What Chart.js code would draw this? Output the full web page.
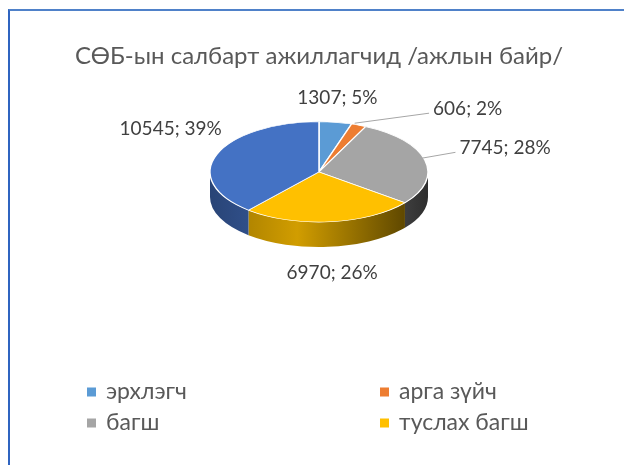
<!DOCTYPE html>
<html>
<head>
<meta charset="utf-8">
<script src="https://cdn.jsdelivr.net/npm/chart.js@4.4.1/dist/chart.umd.min.js"></script>
<style>
    html, body { margin: 0; padding: 0; background: #fff; }
    #wrap { position: relative; width: 624px; height: 465px; }
    #wrap canvas { position: absolute; left: 0; top: 0; }
    #frame { position: absolute; left: 8px; top: 9px; right: 0; bottom: 0;
             border-top: 2px solid #4f81c9; border-left: 2px solid #2f64c0; }
</style>
</head>
<body>
<div id="wrap">
    <canvas id="chart" width="624" height="465"></canvas>
    <div id="frame"></div>
</div>
<script>
const chartTitle = 'СӨБ-ын салбарт ажиллагчид /ажлын байр/';
const categories = ['эрхлэгч', 'арга зүйч', 'багш', 'туслах багш', ''];
const workers = [1307, 606, 7745, 6970, 10545];
const percents = ['5%', '2%', '28%', '26%', '39%'];
const colors = ['#5b9bd5', '#ed7d31', '#a5a5a5', '#ffc000', '#4472c4'];

// label nudges from the slice edge (px), like Excel "best fit"
const labelNudge = [[2, -24], [109, -16], [80, -12], [2, 26], [-46, -26]];

const tilt = 0.46;   // squash of the top face
const depth = 25;    // height of the side wall
const font = 'Lato, "Open Sans", sans-serif';

function shade(hex, f) {
    const n = parseInt(hex.slice(1), 16);
    const r = (n >> 16) & 255, g = (n >> 8) & 255, b = n & 255;
    return `rgb(${Math.round(r * f)},${Math.round(g * f)},${Math.round(b * f)})`;
}

// fake 3D: draw the walls, then squash the top face
const pie3d = {
    id: 'pie3d',
    beforeDatasetsDraw(chart) {
        const ctx = chart.ctx;
        const arcs = chart.getDatasetMeta(0).data;
        const cx = arcs[0].x, cy = arcs[0].y, rx = arcs[0].outerRadius;
        const ry = rx * tilt;
        arcs.forEach((arc, i) => {
            const a1 = Math.max(arc.startAngle, 0);
            const a2 = Math.min(arc.endAngle, Math.PI);
            if (a2 <= a1) return;
            const g = ctx.createLinearGradient(cx - rx, 0, cx + rx, 0);
            g.addColorStop(0, shade(colors[i], 0.6));
            g.addColorStop(0.4, shade(colors[i], 0.82));
            g.addColorStop(1, shade(colors[i], 0.28));
            ctx.beginPath();
            ctx.ellipse(cx, cy, rx, ry, 0, a1, a2);
            ctx.ellipse(cx, cy + depth, rx, ry, 0, a2, a1, true);
            ctx.closePath();
            ctx.fillStyle = g;
            ctx.fill();
        });
        ctx.save();
        ctx.translate(cx, cy);
        ctx.scale(1, tilt);
        ctx.translate(-cx, -cy);
    },
    afterDatasetsDraw(chart) {
        const ctx = chart.ctx;
        ctx.restore();
        const arcs = chart.getDatasetMeta(0).data;
        const cx = arcs[0].x, cy = arcs[0].y, rx = arcs[0].outerRadius;
        const ry = rx * tilt;

        ctx.save();
        ctx.font = '19px ' + font;
        ctx.textAlign = 'center';
        ctx.textBaseline = 'middle';
        arcs.forEach((arc, i) => {
            const mid = (arc.startAngle + arc.endAngle) / 2;
            const ex = cx + Math.cos(mid) * rx;
            const ey = cy + Math.sin(mid) * ry + (Math.sin(mid) > 0 ? depth : 0);
            const lx = ex + labelNudge[i][0], ly = ey + labelNudge[i][1];
            const text = workers[i] + '; ' + percents[i];
            if (Math.hypot(labelNudge[i][0], labelNudge[i][1]) > 60) {
                const w = ctx.measureText(text).width;
                ctx.strokeStyle = '#a6a6a6';
                ctx.lineWidth = 1;
                ctx.beginPath();
                ctx.moveTo(ex - 4, ey - 2);
                ctx.lineTo(lx - w / 2 - 4, ly + 4);
                ctx.stroke();
            }
            ctx.fillStyle = '#404040';
            ctx.fillText(text, lx, ly);
        });
        ctx.restore();
    },
    afterDraw(chart) {
        // two column legend, empty names are left out like in the original
        const ctx = chart.ctx;
        ctx.save();
        ctx.font = '23px ' + font;
        ctx.textBaseline = 'middle';
        ctx.textAlign = 'left';
        categories.forEach((name, i) => {
            if (!name) return;
            const x = 87 + (i % 2) * 293;
            const y = 392 + Math.floor(i / 2) * 31;
            ctx.fillStyle = colors[i];
            ctx.fillRect(x, y - 4.5, 9, 9);
            ctx.fillStyle = '#595959';
            ctx.fillText(name, x + 19, y);
        });
        ctx.restore();
    }
};

new Chart(document.getElementById('chart'), {
    type: 'pie',
    data: {
        labels: categories,
        datasets: [{
            data: workers,
            backgroundColor: colors,
            borderColor: '#ffffff',
            borderWidth: 1.5,
            radius: 109,
            clip: false
        }]
    },
    options: {
        responsive: false,
        animation: false,
        layout: { padding: { left: 14, right: 0, top: 0, bottom: 202 } },
        plugins: {
            legend: { display: false },
            tooltip: { enabled: false },
            title: {
                display: true,
                text: chartTitle,
                color: '#595959',
                font: { family: font, size: 24, weight: 'normal' },
                padding: { top: 42, bottom: 10 }
            }
        }
    },
    plugins: [pie3d]
});
</script>
</body>
</html>
